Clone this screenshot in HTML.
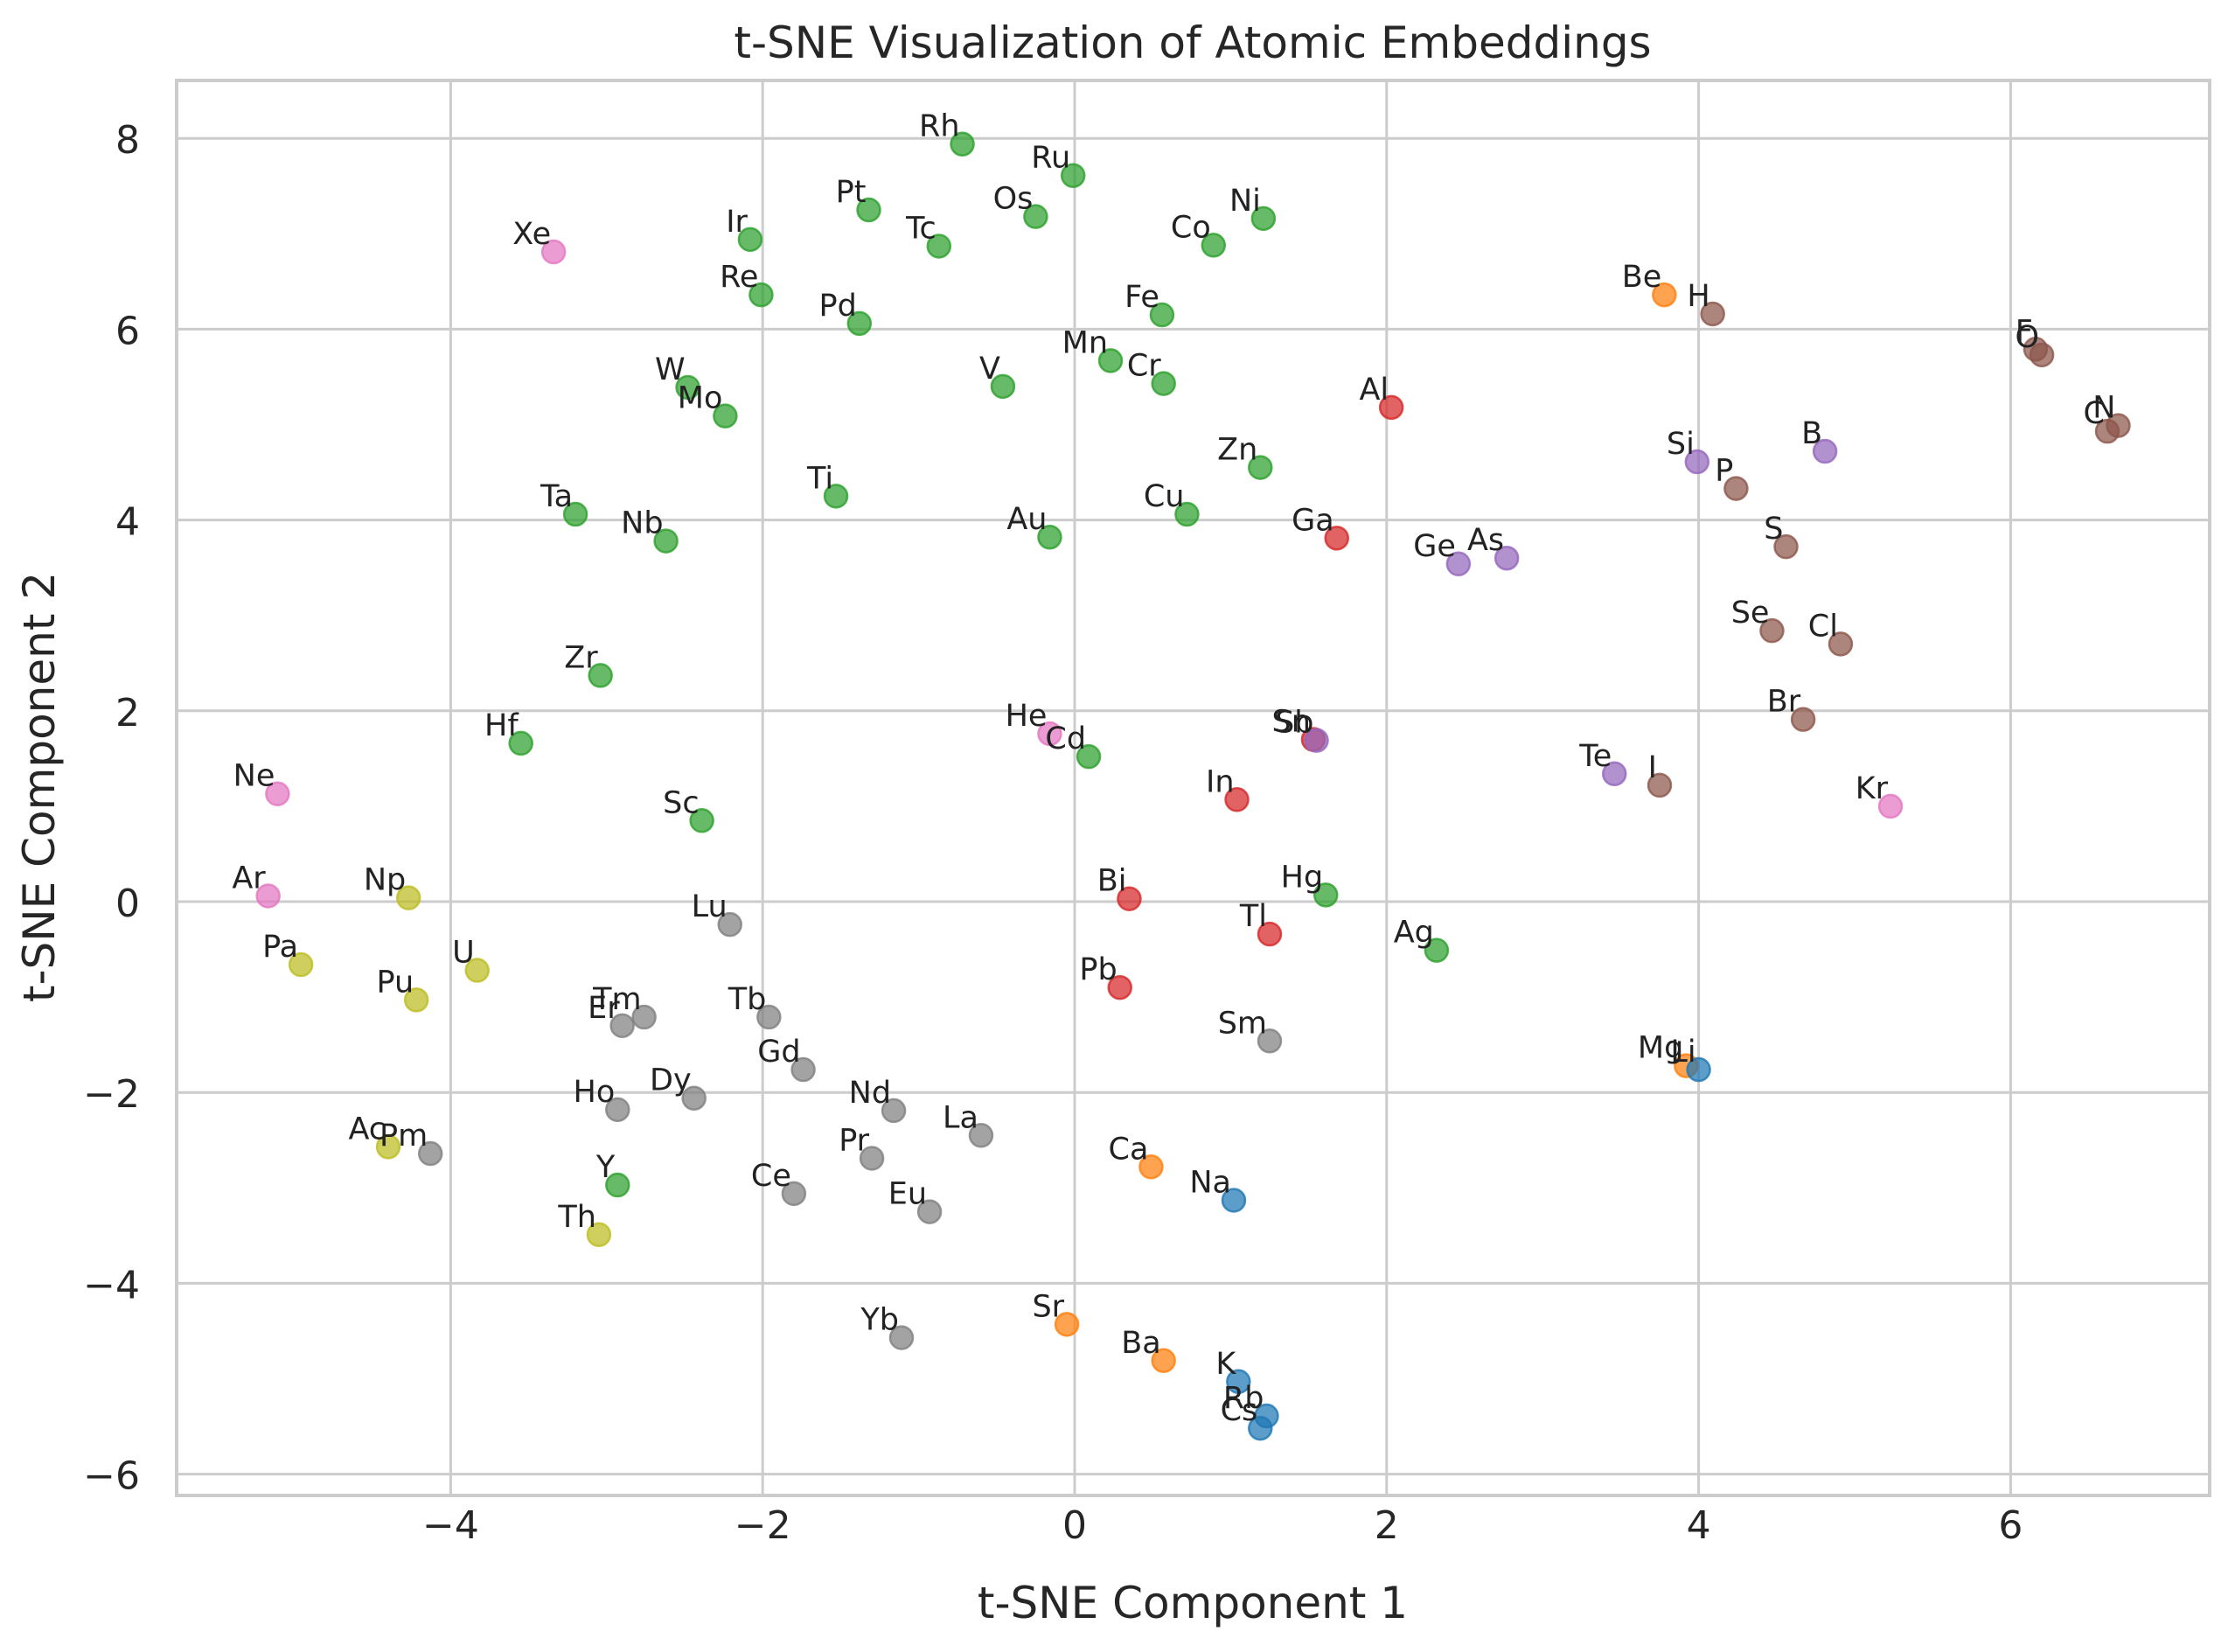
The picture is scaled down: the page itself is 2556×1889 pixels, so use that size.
<!DOCTYPE html>
<html><head><meta charset="utf-8"><style>
html,body{margin:0;padding:0;background:#fff;}
svg{display:block;font-family:"DejaVu Sans","Liberation Sans",sans-serif;}
</style></head><body>
<svg id="chart" width="2556" height="1889" viewBox="0 0 2556 1889" xmlns="http://www.w3.org/2000/svg">
<rect x="0" y="0" width="2556" height="1889" fill="#fff"/>
<g id="grid"></g>
<g id="ticks"></g>
<g id="points"></g>
<rect x="202" y="92" width="2325" height="1618" fill="none" stroke="#cccccc" stroke-width="4"/>
<text x="1364" y="66" font-size="50" text-anchor="middle" fill="#262626">t-SNE Visualization of Atomic Embeddings</text>
<text x="1364" y="1850" font-size="50" text-anchor="middle" fill="#262626">t-SNE Component 1</text>
<text x="0" y="0" font-size="50" text-anchor="middle" fill="#262626" transform="translate(62,900) rotate(-90)">t-SNE Component 2</text>
</svg>
<script>
const names = ["Rh","Ru","Pt","Os","Ni","Tc","Co","Ir","Xe","Re","Be","H","Fe","Pd","F","O","Mn","W","V","Cr","Al","Mo","N","C","B","Si","Zn","P","Ti","Ta","Cu","Au","Nb","Ga","S","As","Ge","Se","Cl","Zr","Br","Sn","Sb","He","Hf","Cd","Te","I","Ne","In","Kr","Sc","Ar","Np","Bi","Hg","Lu","Tl","Ag","Pa","U","Pb","Pu","Tm","Er","Tb","Sm","Mg","Li","Gd","Dy","Nd","Ho","La","Ac","Pm","Pr","Ca","Y","Ce","Na","Eu","Th","Sr","Yb","Ba","K","Rb","Cs"];
const xs = [-0.72,-0.01,-1.32,-0.25,1.21,-0.87,0.89,-2.08,-3.34,-2.01,3.78,4.09,0.56,-1.38,6.16,6.2,0.23,-2.48,-0.46,0.57,2.03,-2.24,6.69,6.62,4.81,3.99,1.19,4.24,-1.53,-3.2,0.72,-0.16,-2.62,1.68,4.56,2.77,2.46,4.47,4.91,-3.04,4.67,1.53,1.55,-0.16,-3.55,0.09,3.46,3.75,-5.11,1.04,5.23,-2.39,-5.17,-4.27,0.35,1.61,-2.21,1.25,2.32,-4.96,-3.83,0.29,-4.22,-2.76,-2.9,-1.96,1.25,3.92,4.0,-1.74,-2.44,-1.16,-2.93,-0.6,-4.4,-4.13,-1.3,0.49,-2.93,-1.8,1.02,-0.93,-3.05,-0.05,-1.11,0.57,1.05,1.23,1.19];
const ys = [7.94,7.61,7.25,7.18,7.16,6.87,6.88,6.94,6.81,6.36,6.36,6.16,6.15,6.06,5.79,5.73,5.67,5.39,5.4,5.43,5.18,5.09,4.99,4.93,4.72,4.61,4.55,4.33,4.25,4.06,4.06,3.82,3.78,3.81,3.72,3.6,3.54,2.84,2.7,2.37,1.91,1.7,1.69,1.76,1.66,1.52,1.34,1.22,1.13,1.07,1.0,0.85,0.06,0.04,0.03,0.07,-0.24,-0.34,-0.51,-0.66,-0.72,-0.9,-1.03,-1.21,-1.3,-1.21,-1.46,-1.72,-1.76,-1.76,-2.06,-2.19,-2.18,-2.45,-2.57,-2.64,-2.69,-2.78,-2.97,-3.06,-3.13,-3.25,-3.49,-4.43,-4.57,-4.81,-5.03,-5.39,-5.52];
const groups = ["tm","tm","tm","tm","tm","tm","tm","tm","ng","tm","ae","nm","tm","tm","nm","nm","tm","tm","tm","tm","pt","tm","nm","nm","md","md","tm","nm","tm","tm","tm","tm","tm","pt","nm","md","md","nm","nm","tm","nm","pt","md","ng","tm","tm","md","nm","ng","pt","ng","tm","ng","ac","pt","tm","ln","pt","tm","ac","ac","pt","ac","ln","ln","ln","ln","ae","am","ln","ln","ln","ln","ln","ac","ln","ln","ae","tm","ln","am","ln","ac","ae","ln","ae","am","am","am"];
const xTicks = [-4,-2,0,2,4,6];
const yTicks = [-6,-4,-2,0,2,4,6,8];
const palette = {am:"#1f77b4",ae:"#ff7f0e",tm:"#2ca02c",pt:"#d62728",md:"#9467bd",nm:"#8c564b",ng:"#e377c2",ln:"#7f7f7f",ac:"#bcbd22"};

const NS = "http://www.w3.org/2000/svg";
function sx(v){ return 1229 + v*178.4; }
function sy(v){ return 1031 - v*109.1; }
function mk(tag, attrs, parent){ const e=document.createElementNS(NS,tag); for(const k in attrs) e.setAttribute(k,attrs[k]); parent.appendChild(e); return e; }

const grid = document.getElementById('grid');
const ticks = document.getElementById('ticks');
xTicks.forEach(t=>{
  const l = mk('line',{x1:sx(t),x2:sx(t),y1:92,y2:1710,stroke:'#cccccc','stroke-width':3},grid);
  
  
  const tx = mk('text',{x:sx(t),y:1759,'font-size':44,'text-anchor':'middle',fill:'#262626'},ticks);
  tx.textContent = (t<0?'\u2212':'')+Math.abs(t);
  
  
});
yTicks.forEach(t=>{
  const l = mk('line',{x1:202,x2:2527,y1:sy(t),y2:sy(t),stroke:'#cccccc','stroke-width':3},grid);
  
  
  const tx = mk('text',{x:160,y:sy(t)+17,'font-size':44,'text-anchor':'end',fill:'#262626'},ticks);
  tx.textContent = (t<0?'\u2212':'')+Math.abs(t);
  
  
});
const pts = document.getElementById('points');
names.forEach((n,i)=>{
  const c = palette[groups[i]];
  const cx = sx(xs[i]), cy = sy(ys[i]);
  const p = mk('circle',{cx:cx,cy:cy,r:13,fill:c,'fill-opacity':0.72,stroke:c,'stroke-opacity':0.8,'stroke-width':2.5},pts);
  
  
});
names.forEach((n,i)=>{
  const cx = sx(xs[i]), cy = sy(ys[i]);
  const t = mk('text',{x:cx-3,y:cy-9,'font-size':35,'text-anchor':'end',fill:'#222'},pts);
  t.textContent = n;
  
  
});
</script>
</body></html>
